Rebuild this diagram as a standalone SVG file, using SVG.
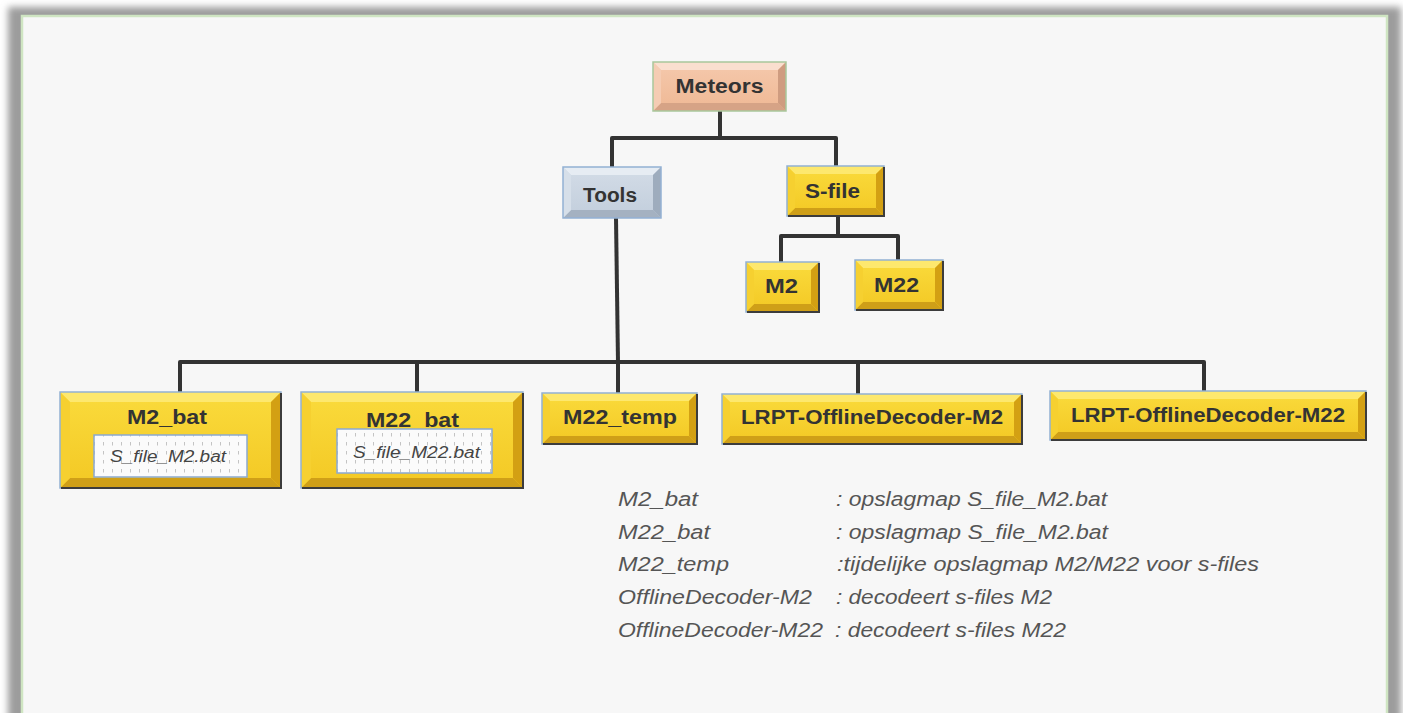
<svg xmlns="http://www.w3.org/2000/svg" width="1403" height="713" viewBox="0 0 1403 713">
<defs>
<filter id="blur" x="-5%" y="-5%" width="110%" height="110%"><feGaussianBlur stdDeviation="3.5"/></filter>
<linearGradient id="gy" x1="0" y1="0" x2="0" y2="1"><stop offset="0" stop-color="#fadb3c"/><stop offset="1" stop-color="#f3c824"/></linearGradient>
<linearGradient id="gp" x1="0" y1="0" x2="0" y2="1"><stop offset="0" stop-color="#f5c9ad"/><stop offset="1" stop-color="#efb894"/></linearGradient>
<linearGradient id="gb" x1="0" y1="0" x2="0" y2="1"><stop offset="0" stop-color="#d3dce7"/><stop offset="1" stop-color="#c2cedc"/></linearGradient>
<pattern id="dots" width="9" height="9" patternUnits="userSpaceOnUse"><rect width="9" height="9" fill="#fbfbfb"/><line x1="4.5" y1="1" x2="4.5" y2="4.5" stroke="#c4c4c4" stroke-width="1"/></pattern>
<style>
.y .bt{fill:#fde86e}.y .bb{fill:#cf9f18}.y .bl{fill:#f6d030}.y .br{fill:#d3a013}.y .face{fill:url(#gy)}
.p .bt{fill:#fadfcf}.p .bb{fill:#d6a386}.p .bl{fill:#f5ccb3}.p .br{fill:#cf9c80}.p .face{fill:url(#gp)}
.b .bt{fill:#e6ecf3}.b .bb{fill:#a4b1c1}.b .bl{fill:#d6dfe9}.b .br{fill:#9eacbd}.b .face{fill:url(#gb)}
.edge{fill:none;stroke:#93b1d4;stroke-width:1.5}
.p .edge{stroke:#a9c79c}
.dk{fill:none;stroke:#3c3c3c;stroke-width:2}
.lbl{font-family:"Liberation Sans",Arial,sans-serif;font-weight:bold;font-size:20px;fill:#333;text-anchor:middle}
.ib{fill:url(#dots);stroke:#8aa9d2;stroke-width:1.5}
.it{font-family:"Liberation Sans",Arial,sans-serif;font-style:italic;font-size:16px;fill:#444;text-anchor:middle}
.lg{font-family:"Liberation Sans",Arial,sans-serif;font-style:italic;font-size:20px;fill:#555}
.conn{fill:none;stroke:#333;stroke-width:4;stroke-linejoin:round;stroke-linecap:butt}
</style>
</defs>
<rect width="1403" height="713" fill="#ffffff"/>
<rect x="8" y="7" width="1393" height="730" fill="#9c9c9c" filter="url(#blur)"/>
<rect x="22" y="16" width="1365" height="710" fill="#f7f7f7" stroke="#cfe5c2" stroke-width="2.5"/>

<g id="connectors">
<path class="conn" d="M720,111 V138 M612,167 V138 H836 V166"/>
<path class="conn" d="M838,216 V236 M781,262 V236 H898 V260"/>
<path class="conn" d="M616,218 L618,362"/>
<path class="conn" d="M180,392 V362 H1204 V391 M417,362 V392 M618,362 V393 M858,362 V394"/>
</g>

<g id="meteors" class="p">
<rect x="653" y="62" width="133" height="49" class="face"/>
<polygon class="bt" points="653,62 786,62 778,70 661,70"/>
<polygon class="bb" points="653,111 786,111 778,103 661,103"/>
<polygon class="bl" points="653,62 661,70 661,103 653,111"/>
<polygon class="br" points="786,62 778,70 778,103 786,111"/>
<rect x="653" y="62" width="133" height="49" class="edge"/>
<text class="lbl" x="719.5" y="93" textLength="88" lengthAdjust="spacingAndGlyphs">Meteors</text>
</g>

<g id="tools" class="b">
<rect x="563" y="167" width="98" height="51" class="face"/>
<polygon class="bt" points="563,167 661,167 653,175 571,175"/>
<polygon class="bb" points="563,218 661,218 653,210 571,210"/>
<polygon class="bl" points="563,167 571,175 571,210 563,218"/>
<polygon class="br" points="661,167 653,175 653,210 661,218"/>
<rect x="563" y="167" width="98" height="51" class="edge"/>
<text class="lbl" x="610" y="202" textLength="54" lengthAdjust="spacingAndGlyphs">Tools</text>
</g>

<g id="sfile" class="y">
<rect x="787" y="166" width="97" height="50" class="face"/>
<polygon class="bt" points="787,166 884,166 876,174 795,174"/>
<polygon class="bb" points="787,216 884,216 876,208 795,208"/>
<polygon class="bl" points="787,166 795,174 795,208 787,216"/>
<polygon class="br" points="884,166 876,174 876,208 884,216"/>
<rect x="787" y="166" width="97" height="50" class="edge"/>
<path class="dk" d="M884,167 V216 H788"/>
<text class="lbl" x="832.5" y="198" textLength="55" lengthAdjust="spacingAndGlyphs">S-file</text>
</g>

<g id="m2" class="y">
<rect x="746" y="262" width="73" height="50" class="face"/>
<polygon class="bt" points="746,262 819,262 811,270 754,270"/>
<polygon class="bb" points="746,312 819,312 811,304 754,304"/>
<polygon class="bl" points="746,262 754,270 754,304 746,312"/>
<polygon class="br" points="819,262 811,270 811,304 819,312"/>
<rect x="746" y="262" width="73" height="50" class="edge"/>
<path class="dk" d="M819,263 V312 H747"/>
<text class="lbl" x="781.5" y="293" textLength="33" lengthAdjust="spacingAndGlyphs">M2</text>
</g>

<g id="m22" class="y">
<rect x="855" y="260" width="88" height="50" class="face"/>
<polygon class="bt" points="855,260 943,260 935,268 863,268"/>
<polygon class="bb" points="855,310 943,310 935,302 863,302"/>
<polygon class="bl" points="855,260 863,268 863,302 855,310"/>
<polygon class="br" points="943,260 935,268 935,302 943,310"/>
<rect x="855" y="260" width="88" height="50" class="edge"/>
<path class="dk" d="M943,261 V310 H856"/>
<text class="lbl" x="896.5" y="292" textLength="45" lengthAdjust="spacingAndGlyphs">M22</text>
</g>

<g id="m2bat" class="y">
<rect x="60" y="392" width="221" height="96" class="face"/>
<polygon class="bt" points="60,392 281,392 271,402 70,402"/>
<polygon class="bb" points="60,488 281,488 271,478 70,478"/>
<polygon class="bl" points="60,392 70,402 70,478 60,488"/>
<polygon class="br" points="281,392 271,402 271,478 281,488"/>
<rect x="60" y="392" width="221" height="96" class="edge"/>
<path class="dk" d="M281,393 V488 H61"/>
<text class="lbl" x="167" y="424" textLength="80" lengthAdjust="spacingAndGlyphs">M2_bat</text>
<rect class="ib" x="94" y="435" width="153" height="42"/>
<text class="it" x="168" y="462" textLength="116" lengthAdjust="spacingAndGlyphs">S_file_M2.bat</text>
</g>

<g id="m22bat" class="y">
<rect x="301" y="392" width="222" height="96" class="face"/>
<polygon class="bt" points="301,392 523,392 513,402 311,402"/>
<polygon class="bb" points="301,488 523,488 513,478 311,478"/>
<polygon class="bl" points="301,392 311,402 311,478 301,488"/>
<polygon class="br" points="523,392 513,402 513,478 523,488"/>
<rect x="301" y="392" width="222" height="96" class="edge"/>
<path class="dk" d="M523,393 V488 H302"/>
<text class="lbl" x="412.5" y="427" textLength="93" lengthAdjust="spacingAndGlyphs">M22_bat</text>
<rect class="ib" x="337" y="429" width="155" height="44"/>
<text class="it" x="416.5" y="458" textLength="127" lengthAdjust="spacingAndGlyphs">S_file_M22.bat</text>
</g>

<g id="m22temp" class="y">
<rect x="542" y="393" width="155" height="51" class="face"/>
<polygon class="bt" points="542,393 697,393 689,401 550,401"/>
<polygon class="bb" points="542,444 697,444 689,436 550,436"/>
<polygon class="bl" points="542,393 550,401 550,436 542,444"/>
<polygon class="br" points="697,393 689,401 689,436 697,444"/>
<rect x="542" y="393" width="155" height="51" class="edge"/>
<path class="dk" d="M697,394 V444 H543"/>
<text class="lbl" x="620" y="424" textLength="114" lengthAdjust="spacingAndGlyphs">M22_temp</text>
</g>

<g id="lrptm2" class="y">
<rect x="722" y="394" width="300" height="50" class="face"/>
<polygon class="bt" points="722,394 1022,394 1014,402 730,402"/>
<polygon class="bb" points="722,444 1022,444 1014,436 730,436"/>
<polygon class="bl" points="722,394 730,402 730,436 722,444"/>
<polygon class="br" points="1022,394 1014,402 1014,436 1022,444"/>
<rect x="722" y="394" width="300" height="50" class="edge"/>
<path class="dk" d="M1022,395 V444 H723"/>
<text class="lbl" x="872" y="424" textLength="262" lengthAdjust="spacingAndGlyphs">LRPT-OfflineDecoder-M2</text>
</g>

<g id="lrptm22" class="y">
<rect x="1050" y="391" width="316" height="49" class="face"/>
<polygon class="bt" points="1050,391 1366,391 1358,399 1058,399"/>
<polygon class="bb" points="1050,440 1366,440 1358,432 1058,432"/>
<polygon class="bl" points="1050,391 1058,399 1058,432 1050,440"/>
<polygon class="br" points="1366,391 1358,399 1358,432 1366,440"/>
<rect x="1050" y="391" width="316" height="49" class="edge"/>
<path class="dk" d="M1366,392 V440 H1051"/>
<text class="lbl" x="1208" y="422" textLength="274" lengthAdjust="spacingAndGlyphs">LRPT-OfflineDecoder-M22</text>
</g>

<g id="legend">
<text class="lg" x="618" y="506" textLength="80" lengthAdjust="spacingAndGlyphs">M2_bat</text>
<text class="lg" x="836" y="506" textLength="271" lengthAdjust="spacingAndGlyphs">: opslagmap S_file_M2.bat</text>
<text class="lg" x="618" y="539" textLength="92" lengthAdjust="spacingAndGlyphs">M22_bat</text>
<text class="lg" x="836" y="539" textLength="272" lengthAdjust="spacingAndGlyphs">: opslagmap S_file_M2.bat</text>
<text class="lg" x="618" y="571" textLength="111" lengthAdjust="spacingAndGlyphs">M22_temp</text>
<text class="lg" x="837" y="571" textLength="422" lengthAdjust="spacingAndGlyphs">:tijdelijke opslagmap M2/M22 voor s-files</text>
<text class="lg" x="618" y="604" textLength="194" lengthAdjust="spacingAndGlyphs">OfflineDecoder-M2</text>
<text class="lg" x="836" y="604" textLength="216" lengthAdjust="spacingAndGlyphs">: decodeert s-files M2</text>
<text class="lg" x="618" y="637" textLength="205" lengthAdjust="spacingAndGlyphs">OfflineDecoder-M22</text>
<text class="lg" x="835" y="637" textLength="231" lengthAdjust="spacingAndGlyphs">: decodeert s-files M22</text>
</g>
</svg>
